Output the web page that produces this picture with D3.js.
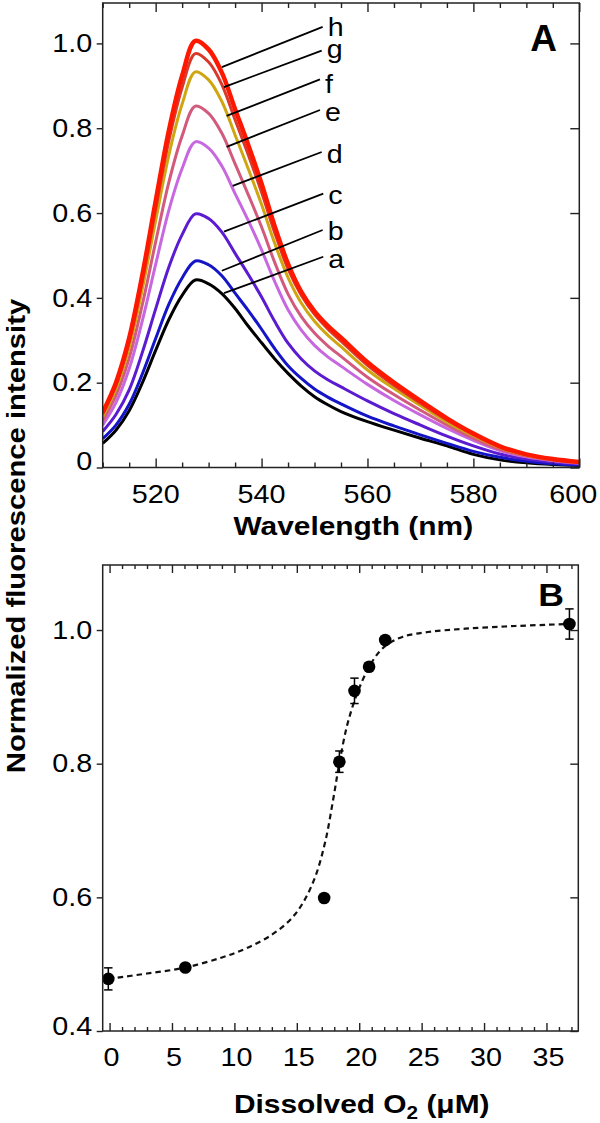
<!DOCTYPE html>
<html><head><meta charset="utf-8">
<script src="https://cdn.jsdelivr.net/npm/d3@7"></script>
<style>
body{margin:0;background:#fff;}
svg{display:block;}
text{font-family:"Liberation Sans", Arial, Helvetica, sans-serif;fill:#000;}
</style></head><body>
<svg id="chart" width="600" height="1123"></svg>
<script>
// ---------- Panel A data ----------
const wavelengths = [510,512.5,515,517.5,520,522.5,525,527.5,530,532.5,535,537.5,540,542.5,545,547.5,550,552.5,555,560,565,570,575,580,585,590,595,600];
const curveA = [0.057,0.088,0.134,0.200,0.276,0.349,0.406,0.442,0.433,0.410,0.375,0.333,0.294,0.256,0.222,0.192,0.167,0.148,0.132,0.108,0.088,0.069,0.051,0.031,0.018,0.011,0.007,0.005];
const curveB = [0.068,0.100,0.149,0.221,0.304,0.385,0.447,0.487,0.478,0.452,0.411,0.370,0.326,0.280,0.240,0.210,0.185,0.166,0.150,0.121,0.098,0.077,0.057,0.038,0.024,0.015,0.009,0.006];
const curveC = [0.085,0.125,0.183,0.272,0.374,0.473,0.549,0.598,0.587,0.555,0.505,0.455,0.402,0.344,0.293,0.256,0.228,0.207,0.190,0.157,0.127,0.100,0.074,0.051,0.032,0.020,0.013,0.008];
const curveD = [0.100,0.153,0.233,0.347,0.479,0.607,0.705,0.768,0.753,0.711,0.646,0.582,0.513,0.438,0.372,0.324,0.288,0.261,0.239,0.196,0.158,0.124,0.092,0.064,0.040,0.025,0.016,0.010];
const curveE = [0.110,0.170,0.258,0.385,0.532,0.673,0.782,0.852,0.835,0.788,0.716,0.643,0.567,0.483,0.409,0.356,0.317,0.287,0.262,0.213,0.172,0.135,0.100,0.069,0.043,0.027,0.017,0.011];
const curveF = [0.120,0.186,0.283,0.422,0.582,0.737,0.857,0.933,0.914,0.863,0.784,0.704,0.620,0.528,0.448,0.388,0.345,0.312,0.285,0.230,0.186,0.146,0.107,0.075,0.047,0.029,0.019,0.012];
const curveG = [0.126,0.194,0.296,0.441,0.609,0.771,0.896,0.976,0.956,0.903,0.820,0.737,0.649,0.553,0.468,0.406,0.361,0.327,0.298,0.241,0.194,0.152,0.112,0.078,0.049,0.030,0.020,0.013];
const curveH = [0.130,0.200,0.305,0.455,0.628,0.795,0.924,1.006,0.986,0.931,0.845,0.760,0.669,0.568,0.480,0.414,0.368,0.334,0.306,0.248,0.200,0.157,0.116,0.080,0.050,0.031,0.020,0.013];
const seriesNames = ["a","b","c","d","e","f","g","h"];
// label leader lines (data units): start on curve, end near letter
const labelStartNm  = [532.9, 532.5, 532.9, 534.55, 533.4, 533.4, 532.9, 532.5];
const labelStartVal = [0.411, 0.464, 0.556, 0.664, 0.756, 0.829, 0.897, 0.944];
const labelEndNm    = [551.65, 551.54, 551.65, 551.35, 551.03, 551.03, 551.35, 551.54];
const labelEndVal   = [0.497, 0.560, 0.646, 0.744, 0.843, 0.915, 0.983, 1.039];
const labelTextVal  = [0.4696, 0.536, 0.621, 0.717, 0.818, 0.882, 0.966, 1.018];
const xTicksA = [520,540,560,580,600];
const yTicksA = [0,0.2,0.4,0.6,0.8,1.0];

// ---------- Panel B data ----------
const o2Conc   = [-0.1, 6.07, 17.19, 18.41, 19.62, 20.79, 22.08, 36.84];
const o2Norm   = [0.478, 0.495, 0.599, 0.803, 0.909, 0.945, 0.985, 1.009];
const o2Err    = [0.0165, 0, 0, 0.016, 0.019, 0, 0, 0.0226];
const fitConc  = [-0.1, 3.0, 6.07, 9.0, 11.0, 13.0, 14.5, 15.5, 16.5, 17.3, 17.9, 18.4, 19.0, 19.6, 20.2, 20.8, 21.5, 22.3, 23.5, 25.5, 28.5, 32.5, 36.84];
const fitNorm  = [0.478, 0.486, 0.495, 0.510, 0.524, 0.544, 0.567, 0.592, 0.632, 0.685, 0.745, 0.800, 0.855, 0.893, 0.922, 0.945, 0.965, 0.979, 0.990, 0.997, 1.002, 1.006, 1.009];
const xTicksB = [0,5,10,15,20,25,30,35];
const yTicksB = [0.4,0.6,0.8,1.0];

// ---------- styles ----------
const seriesColors = ["#000000","#1515c8","#5b1bd0","#c868e0","#d25a7c","#d0a512","#d8392a","#ff1800"];
const seriesWidths = [3,3,3,3,3,3,3,4.5];
const SX = 1.15; // horizontal glyph stretch

const svg = d3.select("#chart");

function txt(g, x, y, str, size, opts={}) {
  const t = g.append("text")
    .attr("transform", `translate(${x},${y})${opts.rotate?` rotate(${opts.rotate})`:""} scale(${opts.sx||SX},1)`)
    .attr("text-anchor", opts.anchor || "middle")
    .attr("font-size", size)
    .attr("font-weight", opts.bold ? "bold" : "normal");
  if (opts.dy) t.attr("dy", opts.dy);
  t.text(str);
  return t;
}

// ================= PANEL A =================
const A = {l:102.7, r:579.3, t:3, b:467.5};
const xA = d3.scaleLinear().domain([510,600]).range([A.l, A.r]);
const yA = d3.scaleLinear().domain([0,1.0953]).range([A.b, A.t]);
const gA = svg.append("g");

svg.append("defs").append("clipPath").attr("id","clipA")
  .append("rect").attr("x",A.l).attr("y",A.t).attr("width",A.r-A.l).attr("height",A.b-A.t);

const seriesData = [curveA,curveB,curveC,curveD,curveE,curveF,curveG,curveH];
const lineA = d3.line().x(d=>xA(d[0])).y(d=>yA(d[1])).curve(d3.curveCatmullRom.alpha(0.5));
const gCurves = gA.append("g").attr("clip-path","url(#clipA)");
seriesData.forEach((vals,i)=>{
  const pts = wavelengths.map((w,j)=>[w, vals[j]]);
  gCurves.append("path").datum(pts)
    .attr("d", lineA).attr("fill","none")
    .attr("stroke", seriesColors[i]).attr("stroke-width", seriesWidths[i])
    .attr("stroke-linejoin","round");
});

// leader lines and letters
seriesNames.forEach((n,i)=>{
  gA.append("line")
    .attr("x1", xA(labelStartNm[i])).attr("y1", yA(labelStartVal[i]))
    .attr("x2", xA(labelEndNm[i])).attr("y2", yA(labelEndVal[i]))
    .attr("stroke","#000").attr("stroke-width",1.8);
  txt(gA, xA(labelEndNm[i]) + 5, yA(labelTextVal[i]), n, 26, {anchor:"start", sx:1.1});
});

// axes A
const minorA = d3.range(510,601,5).filter(v=>!xTicksA.includes(v));
gA.append("g").attr("transform",`translate(0,${A.b})`)
  .call(d3.axisBottom(xA).tickValues(xTicksA).tickSize(-9).tickFormat(""));
gA.append("g").attr("transform",`translate(0,${A.b})`)
  .call(d3.axisBottom(xA).tickValues(minorA).tickSize(-5).tickFormat(""));
gA.append("g").attr("transform",`translate(0,${A.t})`)
  .call(d3.axisTop(xA).tickValues(xTicksA).tickSize(-9).tickFormat(""));
gA.append("g").attr("transform",`translate(0,${A.t})`)
  .call(d3.axisTop(xA).tickValues(minorA).tickSize(-5).tickFormat(""));
gA.append("g").attr("transform",`translate(${A.l},0)`)
  .call(d3.axisLeft(yA).tickValues(yTicksA).tickSize(6).tickFormat(""));
gA.append("g").attr("transform",`translate(${A.r},0)`)
  .call(d3.axisRight(yA).tickValues(yTicksA).tickSize(-9).tickFormat(""));
gA.selectAll(".domain").remove();
gA.selectAll(".tick line").attr("stroke","#222").attr("stroke-width",1.4);

yTicksA.forEach(v=>{
  const lab = v===0 ? "0" : d3.format(".1f")(v);
  txt(gA, A.l-10.5, yA(v) + (v===0 ? -6 : 0), lab, 25, {anchor:"end", dy:"0.35em"});
});
xTicksA.forEach(v=>{
  txt(gA, xA(v) + (v===600 ? -6 : 0), A.b+35, String(v), 25);
});
gA.append("rect").attr("x",A.l).attr("y",A.t).attr("width",A.r-A.l).attr("height",A.b-A.t)
  .attr("fill","none").attr("stroke","#222").attr("stroke-width",1.5);
txt(gA, 353.3, 535, "Wavelength (nm)", 26, {bold:true});
txt(gA, 557, 51, "A", 37, {bold:true, anchor:"end", sx:1.0});

// ================= PANEL B =================
const B = {l:102.7, r:578.3, t:565, b:1031};
const xB = d3.scaleLinear().domain([-0.55,37.55]).range([B.l, B.r]);
const yB = d3.scaleLinear().domain([0.4,1.0973]).range([B.b, B.t]);
const gB = svg.append("g");

const minorB = d3.range(0,38,1).filter(v=>v%5!==0);
gB.append("g").attr("transform",`translate(0,${B.b})`)
  .call(d3.axisBottom(xB).tickValues(xTicksB).tickSize(-8).tickFormat(""));
gB.append("g").attr("transform",`translate(0,${B.b})`)
  .call(d3.axisBottom(xB).tickValues(minorB).tickSize(-4).tickFormat(""));
gB.append("g").attr("transform",`translate(0,${B.t})`)
  .call(d3.axisTop(xB).tickValues(xTicksB).tickSize(-8).tickFormat(""));
gB.append("g").attr("transform",`translate(0,${B.t})`)
  .call(d3.axisTop(xB).tickValues(minorB).tickSize(-4).tickFormat(""));
gB.append("g").attr("transform",`translate(${B.l},0)`)
  .call(d3.axisLeft(yB).tickValues(yTicksB).tickSize(6).tickFormat(""));
gB.append("g").attr("transform",`translate(${B.r},0)`)
  .call(d3.axisRight(yB).tickValues(yTicksB).tickSize(-8).tickFormat(""));
gB.selectAll(".domain").remove();
gB.selectAll(".tick line").attr("stroke","#222").attr("stroke-width",1.4);

yTicksB.forEach(v=>{
  txt(gB, B.l-10.5, yB(v) + (v===0.4 ? -5 : 0), d3.format(".1f")(v), 25, {anchor:"end", dy:"0.35em"});
});
xTicksB.forEach(v=>{
  txt(gB, xB(v)+2, B.b+35, String(v), 25);
});

// fit curve
const fitPts = fitConc.map((c,i)=>[c, fitNorm[i]]);
gB.append("path").datum(fitPts)
  .attr("d", d3.line().x(d=>xB(d[0])).y(d=>yB(d[1])).curve(d3.curveCatmullRom.alpha(0.5)))
  .attr("fill","none").attr("stroke","#111").attr("stroke-width",2.2)
  .attr("stroke-dasharray","5.5,4");

// error bars
o2Conc.forEach((c,i)=>{
  if (!o2Err[i]) return;
  const x = xB(c), y1 = yB(o2Norm[i]-o2Err[i]), y2 = yB(o2Norm[i]+o2Err[i]);
  gB.append("line").attr("x1",x).attr("x2",x).attr("y1",y1).attr("y2",y2).attr("stroke","#000").attr("stroke-width",1.5);
  [y1,y2].forEach(y=>gB.append("line").attr("x1",x-4.2).attr("x2",x+4.2).attr("y1",y).attr("y2",y).attr("stroke","#000").attr("stroke-width",1.5));
});
// points
gB.selectAll("circle.pt").data(o2Conc).enter().append("circle")
  .attr("class","pt").attr("cx",d=>xB(d)).attr("cy",(d,i)=>yB(o2Norm[i])).attr("r",6.3).attr("fill","#000");

gB.append("rect").attr("x",B.l).attr("y",B.t).attr("width",B.r-B.l).attr("height",B.b-B.t)
  .attr("fill","none").attr("stroke","#222").attr("stroke-width",1.5);

// x title B with subscript
const tB = gB.append("text")
  .attr("transform",`translate(361.7,1113) scale(${SX},1)`)
  .attr("text-anchor","middle").attr("font-size",26).attr("font-weight","bold");
tB.append("tspan").text("Dissolved O");
tB.append("tspan").attr("font-size",18).attr("dy",6).text("2");
tB.append("tspan").attr("dy",-6).text(" (μM)");
txt(gB, 564, 606, "B", 31, {bold:true, anchor:"end"});

// shared y title
txt(svg, 25, 536, "Normalized fluorescence intensity", 25, {bold:true, rotate:-90, sx:1.17});
</script>
</body></html>
